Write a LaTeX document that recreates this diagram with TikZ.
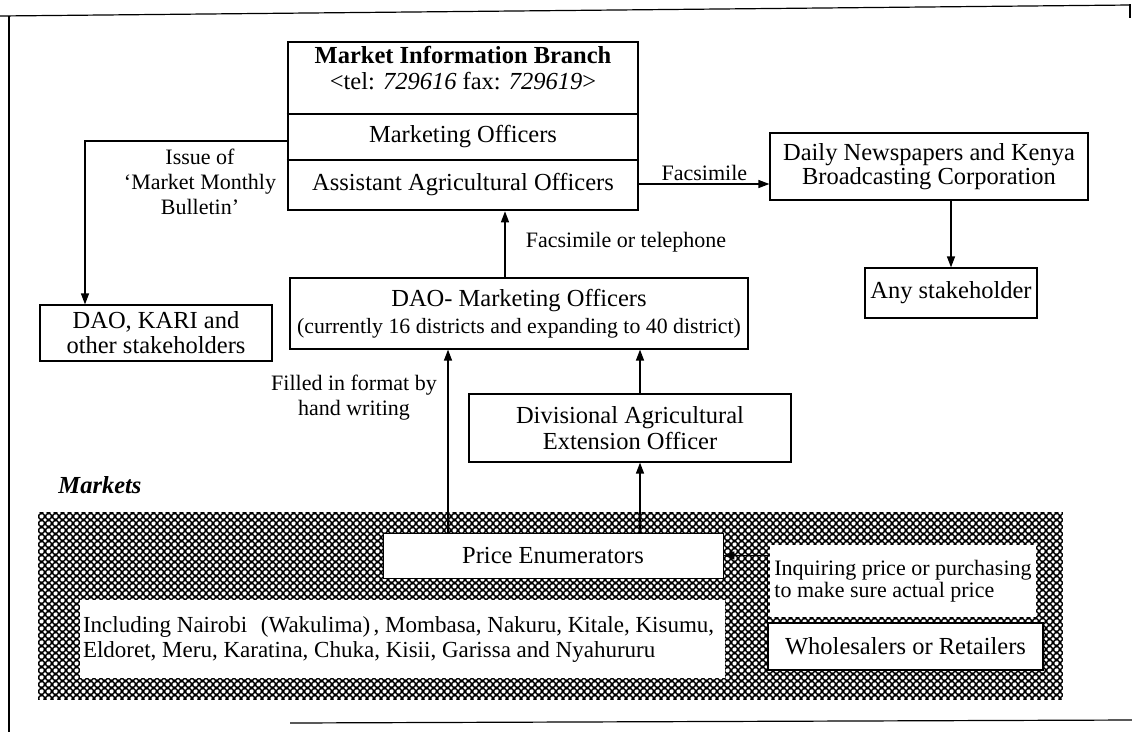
\documentclass[tikz,border=0pt]{standalone}
\usepackage{fontspec}
\setmainfont{Liberation Serif}
\usetikzlibrary{arrows.meta,patterns}
\pgfdeclarepatternformonly{diamholes}{\pgfqpoint{0pt}{0pt}}{\pgfqpoint{7pt}{7pt}}{\pgfqpoint{7pt}{7pt}}{%
  \pgfpathmoveto{\pgfqpoint{3.5pt}{1.4pt}}\pgfpathlineto{\pgfqpoint{5.6pt}{3.5pt}}%
  \pgfpathlineto{\pgfqpoint{3.5pt}{5.6pt}}\pgfpathlineto{\pgfqpoint{1.4pt}{3.5pt}}\pgfpathclose
  \pgfpathmoveto{\pgfqpoint{0pt}{-2.1pt}}\pgfpathlineto{\pgfqpoint{2.1pt}{0pt}}%
  \pgfpathlineto{\pgfqpoint{0pt}{2.1pt}}\pgfpathlineto{\pgfqpoint{-2.1pt}{0pt}}\pgfpathclose
  \pgfpathmoveto{\pgfqpoint{7pt}{-2.1pt}}\pgfpathlineto{\pgfqpoint{9.1pt}{0pt}}%
  \pgfpathlineto{\pgfqpoint{7pt}{2.1pt}}\pgfpathlineto{\pgfqpoint{4.9pt}{0pt}}\pgfpathclose
  \pgfpathmoveto{\pgfqpoint{0pt}{4.9pt}}\pgfpathlineto{\pgfqpoint{2.1pt}{7pt}}%
  \pgfpathlineto{\pgfqpoint{0pt}{9.1pt}}\pgfpathlineto{\pgfqpoint{-2.1pt}{7pt}}\pgfpathclose
  \pgfpathmoveto{\pgfqpoint{7pt}{4.9pt}}\pgfpathlineto{\pgfqpoint{9.1pt}{7pt}}%
  \pgfpathlineto{\pgfqpoint{7pt}{9.1pt}}\pgfpathlineto{\pgfqpoint{4.9pt}{7pt}}\pgfpathclose
  \pgfusepath{fill}}
\newcommand\mainsz{\fontsize{24.5}{26}\selectfont}
\newcommand\labsz{\fontsize{22}{25}\selectfont}
\begin{document}
\begin{tikzpicture}[x=1pt,y=-1pt,
  box/.style={draw, line width=1.2pt, fill=white, inner sep=0pt, align=center, font=\mainsz},
  lbl/.style={inner sep=0pt, align=center, font=\labsz},
  txt/.style={inner sep=0pt, align=center, font=\mainsz},
  arr/.style={-{Triangle[length=11pt,width=8pt]}, line width=1.3pt},
  hatch/.style={fill=black, postaction={pattern=diamholes, pattern color=white}},
  frame/.style={line width=1.2pt}]
\useasboundingbox (0,0) rectangle (1132,732);
% frame
\draw[frame] (0,16) -- (1130,5);
\draw[frame] (1130,4) -- (1130,18);
\draw[frame] (9,16) -- (9,732);
\draw[frame] (290,723) -- (1132,720);
% markets area
\node[hatch, minimum width=1025pt, minimum height=188pt, inner sep=0pt] (mkt) at (550.5,606) {};
\node[fill=white, minimum height=78pt, inner xsep=3pt, inner ysep=0pt, align=left, font=\fontsize{23}{25}\selectfont] (incl) at (402.5,639)
  {\makebox[639pt][l]{Including Nairobi\hspace{0.6em}(Wakulima)\hspace{0.15em}, Mombasa, Nakuru, Kitale, Kisumu,}\\\makebox[639pt][l]{Eldoret, Meru, Karatina, Chuka, Kisii, Garissa and Nyahururu}};
\node[box, line width=0.8pt, minimum width=340pt, minimum height=45pt] (price) at (553,555.5) {Price Enumerators};
\node[fill=white, minimum width=266pt, minimum height=72pt, inner sep=0pt, align=left, font=\fontsize{22}{22}\selectfont] (inq) at (903,581)
  {Inquiring price or purchasing\\to make sure actual price};
\node[box, minimum width=275pt, minimum height=47pt] (whole) at (905.5,646.5) {Wholesalers or Retailers};
\node[txt, font=\mainsz\bfseries\itshape] (mk) at (100,485) {Markets};
% main box
\node[box, line width=2.6pt, minimum width=350pt, minimum height=168pt] (mib) at (463,126) {};
\coordinate (s1) at (0,114);
\coordinate (s2) at (0,160);
\draw[line width=1.2pt] (mib.west |- s1) -- (mib.east |- s1);
\draw[line width=1.2pt] (mib.west |- s2) -- (mib.east |- s2);
\node[txt] (mibt) at (463,68) {\textbf{Market Information Branch}\\<tel: \textit{729616} fax: \textit{729619}>};
\node[txt] (mo) at (463,137) {Marketing Officers};
\node[txt] (aao) at (463,185) {Assistant Agricultural Officers};
% other boxes
\node[box, minimum width=318pt, minimum height=67pt, font=\fontsize{24.5}{23.5}\selectfont] (daily) at (929,166.5) {Daily Newspapers and Kenya\\Broadcasting Corporation};
\node[box, minimum width=172pt, minimum height=50pt] (any) at (951,293) {Any stakeholder};
\node[box, minimum width=458pt, minimum height=71pt, font=\fontsize{24.5}{27}\selectfont] (dao) at (519,313.5) {DAO- Marketing Officers\\{\fontsize{21.8}{27}\selectfont(currently 16 districts and expanding to 40 district)}};
\node[box, minimum width=232pt, minimum height=56pt, font=\fontsize{24.5}{25}\selectfont] (kari) at (156,333) {DAO, KARI and\\other stakeholders};
\node[box, minimum width=322pt, minimum height=68pt] (div) at (630,428) {Divisional Agricultural\\Extension Officer};
% labels
\node[lbl] (lissue) at (200,182) {Issue of\\‘Market Monthly\\Bulletin’};
\node[lbl] (lfot) at (626,242) {Facsimile or telephone};
\node[lbl] (lfill) at (354,398) {Filled in format by\\hand writing};
% connectors
\draw[arr] ([yshift=-58pt]mib.east) -- ([yshift=-58pt]mib.east -| daily.west)
  node[midway, above, inner sep=3pt, font=\labsz] (lfax) {Facsimile};
\draw[arr] (daily.south -| any.north) -- (any.north);
\draw[arr] ([xshift=-14pt]dao.north) -- ([xshift=-14pt]dao.north |- mib.south);
\draw[arr] ([yshift=-15pt]mib.west) -| ([xshift=-71pt]kari.north);
\draw[arr] ([xshift=10pt]div.north) -- ([xshift=10pt]div.north |- dao.south);
\draw[arr] ([xshift=-105pt]price.north) -- ([xshift=-105pt]price.north |- dao.south);
\draw[arr] ([xshift=10pt]price.north -| div.south) -- ([xshift=10pt]div.south);
\draw[arr] (whole.north west) |- (price.east);
\end{tikzpicture}
\end{document}
